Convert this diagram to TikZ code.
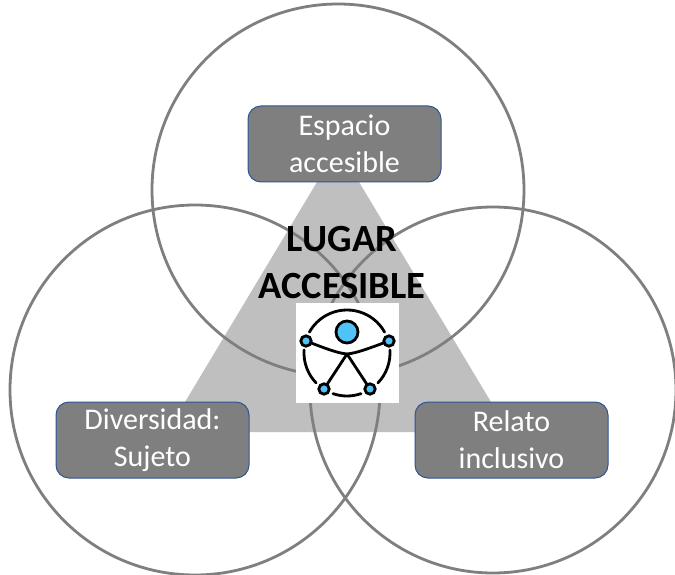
\documentclass[tikz,border=0pt]{standalone}
\usepackage{fontspec}
\setmainfont{Carlito}
\definecolor{ringgray}{HTML}{7F7F7F}
\definecolor{trigray}{HTML}{BFBFBF}
\definecolor{boxgray}{HTML}{7F7F7F}
\definecolor{boxblue}{HTML}{2F5597}
\definecolor{iconblue}{HTML}{4FC3F7}
\tikzset{
  ring/.style={draw=ringgray,line width=2.8pt},
  labelbox/.style={draw=boxblue,line width=1pt,fill=boxgray,rounded corners=13pt,minimum width=193pt,minimum height=76pt,inner sep=0pt,align=center,text=white,font=\fontsize{30}{37}\selectfont},
  icon/.style={draw=black,line width=2.8pt,line cap=round},
  joint/.style={draw=black,line width=2.8pt,fill=iconblue},
}
\begin{document}
\begin{tikzpicture}[x=1pt,y=-1pt]
\useasboundingbox (0,0) rectangle (675,575);
\fill[white] (0,0) rectangle (675,575);
\coordinate (apex) at (338,147);
\coordinate (bl) at (167,432);
\coordinate (br) at (509,432);
\fill[trigray] (apex) -- (bl) -- (br) -- cycle;
\draw[ring] (338,190) circle[radius=186];
\draw[ring] (195,390) circle[radius=185];
\draw[ring] (493,390) circle[radius=183];
\node[labelbox] (espacio) at (344.5,144) {Espacio\\accesible};
\node[labelbox] (diversidad) at (152.5,440) {Diversidad:\\Sujeto};
\node[labelbox] (relato) at (511.5,440) {Relato\\inclusivo};
\node[align=center,inner sep=0pt,font=\fontsize{38.5}{47}\selectfont\bfseries] (titulo) at (342,263) {LUGAR\\ACCESIBLE};
\fill[white] (296,303) rectangle (399,403);
% accessibility icon
\begin{scope}[shift={(347,353)},x=1pt,y=1pt]
\draw[icon] (29:43) arc[start angle=29,end angle=151,radius=43];
\draw[icon] (176:43) arc[start angle=176,end angle=224,radius=43];
\draw[icon] (251:43) arc[start angle=251,end angle=289,radius=43];
\draw[icon] (316:43) arc[start angle=316,end angle=364,radius=43];
\coordinate (handl) at (-41,12);
\coordinate (handr) at (42,12);
\coordinate (footl) at (-23,-36);
\coordinate (footr) at (23,-36);
\coordinate (crotch) at (0,-1);
\draw[icon] (handl) .. controls (-20,4) and (-10,0) .. (crotch) .. controls (10,0) and (20,4) .. (handr);
\draw[icon] (crotch) -- (footl);
\draw[icon] (crotch) -- (footr);
\draw[joint] (0,21) circle[radius=11];
\draw[joint] (handl) circle[radius=5.2];
\draw[joint] (handr) circle[radius=5.2];
\draw[joint] (footl) circle[radius=5.2];
\draw[joint] (footr) circle[radius=5.2];
\end{scope}
\end{tikzpicture}
\end{document}
